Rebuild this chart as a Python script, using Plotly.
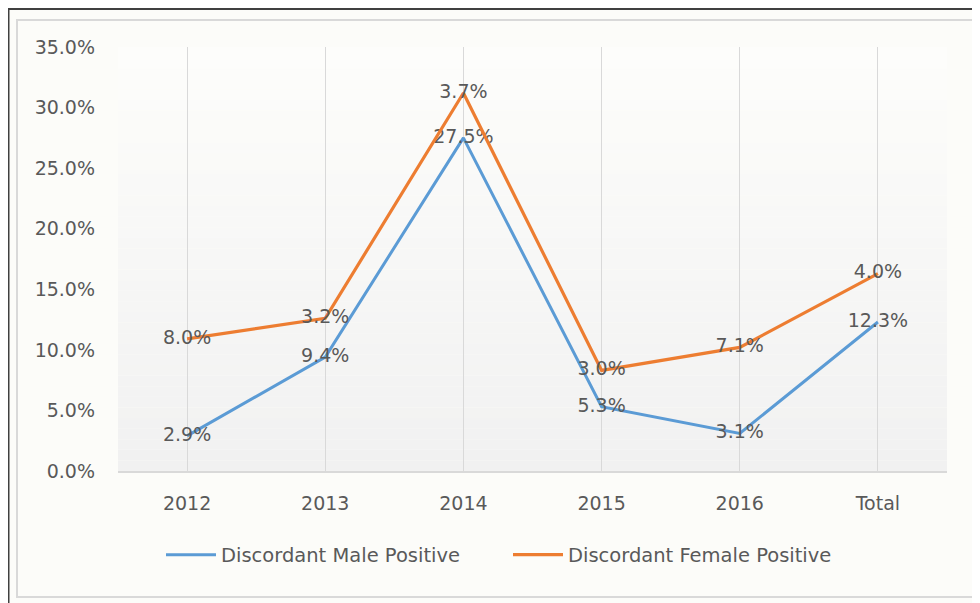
import plotly.graph_objects as go

categories = ["2012", "2013", "2014", "2015", "2016", "Total"]
male_positive = [0.029, 0.094, 0.275, 0.053, 0.031, 0.123]
female_positive = [0.080, 0.032, 0.037, 0.030, 0.071, 0.040]
y_ticks = [0, 0.05, 0.10, 0.15, 0.20, 0.25, 0.30, 0.35]

BLUE = "#5B9BD5"
ORANGE = "#ED7D31"
TEXT = "#595959"
FONT = "DejaVu Sans"

# page body has an 8px margin, so the figure is drawn 8px in from the window edge
W, H = 972, 595
ML, MR, MT, MB = 110, 33, 39, 132
PW, PH = W - ML - MR, H - MT - MB


def px_x(x):
    return (x - ML) / PW


def px_y(y):
    return (H - MB - y) / PH


fig = go.Figure()
fig.add_trace(go.Scatter(
    x=categories, y=male_positive, name="Discordant Male Positive",
    mode="lines+text", stackgroup="s", fill="none",
    line=dict(color=BLUE, width=3),
    text=[f"{v*100:.1f}%" for v in male_positive],
    textposition="middle center",
    textfont=dict(family=FONT, size=19, color=TEXT),
    hoverinfo="skip", legend="legend",
))
fig.add_trace(go.Scatter(
    x=categories, y=female_positive, name="Discordant Female Positive",
    mode="lines+text", stackgroup="s", fill="none",
    line=dict(color=ORANGE, width=3.2),
    text=[f"{v*100:.1f}%" for v in female_positive],
    textposition="middle center",
    textfont=dict(family=FONT, size=19, color=TEXT),
    hoverinfo="skip", legend="legend2",
))

shapes = []
n = 40
c0 = (253, 253, 251)
c1 = (241, 241, 241)
for i in range(n):
    t = i / (n - 1)
    col = tuple(round(c0[k] + (c1[k] - c0[k]) * t) for k in range(3))
    shapes.append(dict(type="rect", xref="paper", yref="paper",
                       x0=0, x1=1, y0=1 - (i + 1) / n, y1=1 - i / n,
                       fillcolor=f"rgb{col}", line=dict(width=0), layer="below"))
shapes.append(dict(type="rect", xref="paper", yref="paper",
                   x0=px_x(9), x1=px_x(969), y0=px_y(589), y1=px_y(12),
                   line=dict(color="#d9d9d9", width=2), layer="below"))
shapes.append(dict(type="line", xref="paper", yref="paper",
                   x0=px_x(0), x1=px_x(980), y0=px_y(1), y1=px_y(1),
                   line=dict(color="#404040", width=2)))
shapes.append(dict(type="line", xref="paper", yref="paper",
                   x0=px_x(0.5), x1=px_x(0.5), y0=px_y(1), y1=px_y(600),
                   line=dict(color="#404040", width=2)))

leg_common = dict(orientation="h", xref="container", yref="container",
                  yanchor="middle", y=1 - (547 / H), xanchor="left",
                  font=dict(family=FONT, size=19.5, color=TEXT),
                  bgcolor="rgba(0,0,0,0)", itemwidth=50)

fig.update_layout(
    width=W, height=H,
    margin=dict(l=ML, r=MR, t=MT, b=MB),
    paper_bgcolor="#fcfcf9",
    plot_bgcolor="rgba(0,0,0,0)",
    font=dict(family=FONT, size=19, color=TEXT),
    showlegend=True,
    legend=dict(leg_common, x=153 / W),
    legend2=dict(leg_common, x=500 / W),
    shapes=shapes,
    xaxis=dict(type="category", range=[-0.5, 5.5], showgrid=True,
               gridcolor="#d9d9d9", gridwidth=1, showline=True,
               linecolor="#d9d9d9", linewidth=1.5, ticks="",
               ticklabelstandoff=14,
               tickfont=dict(family=FONT, size=19, color=TEXT),
               zeroline=False, fixedrange=True),
    yaxis=dict(range=[0, 0.35], tickvals=y_ticks,
               ticktext=[f"{v*100:.1f}%" for v in y_ticks],
               showgrid=False, zeroline=False, showline=False, ticks="",
               ticklabelstandoff=22,
               tickfont=dict(family=FONT, size=19, color=TEXT),
               fixedrange=True),
)

fig.write_html("out.html")
